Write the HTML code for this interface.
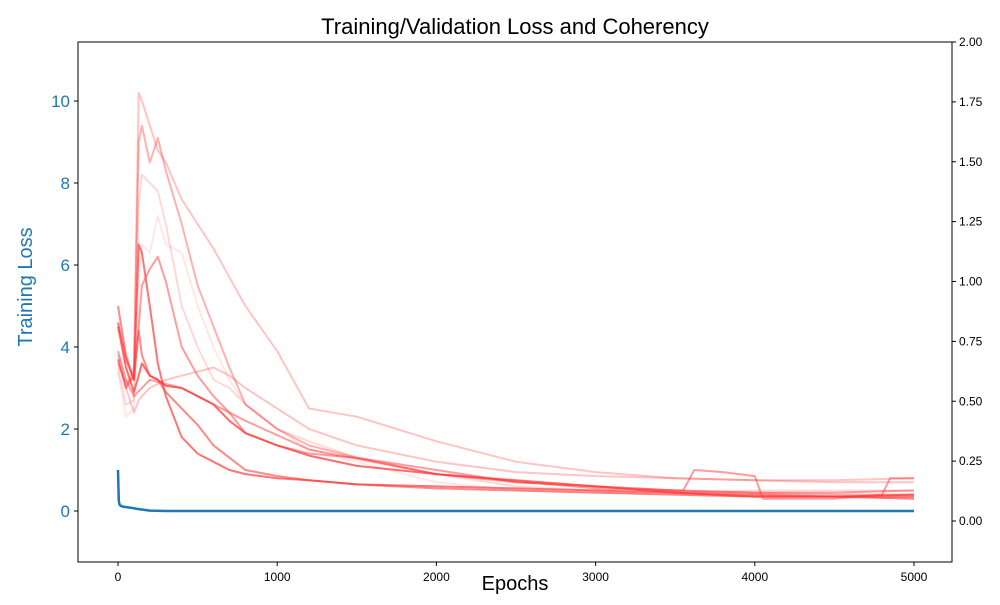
<!DOCTYPE html>
<html><head><meta charset="utf-8"><style>
body{margin:0;background:#fff;font-family:"Liberation Sans","DejaVu Sans",sans-serif}
</style></head><body>
<svg id="chart" width="1000" height="600" xmlns="http://www.w3.org/2000/svg" font-family="Liberation Sans, DejaVu Sans, sans-serif"></svg>
<script>
const epochs=[0,50,100,130,150,200,250,300,400,500,600,700,800,1000,1200,1500,2000,2500,3000,3500,4000,4500,5000];
const val1=[3.8,3.0,3.5,10.2,10.0,9.4,8.8,8.5,7.6,7.0,6.4,5.7,5.0,3.9,2.5,2.3,1.7,1.2,0.95,0.8,0.75,0.75,0.8];
const val2=[3.6,3.1,3.3,9.0,9.4,8.5,9.1,8.3,7.0,5.5,4.5,3.5,2.6,2.0,1.6,1.3,0.9,0.7,0.6,0.5,0.45,0.4,0.4];
const val3=[3.5,2.6,2.7,7.5,8.2,8.0,7.8,7.0,5.0,4.0,3.2,3.0,2.6,2.0,1.7,1.3,0.9,0.6,0.5,0.45,0.5,0.5,0.5];
const val4=[3.4,2.3,2.5,5.5,6.5,6.3,7.2,6.5,6.3,5.0,4.0,3.2,2.6,2.0,1.5,1.2,0.7,0.5,0.45,0.4,0.35,0.35,0.3];
const val5=[4.6,3.7,3.2,6.5,6.3,5.0,3.6,2.8,1.8,1.4,1.2,1.0,0.9,0.8,0.75,0.65,0.6,0.55,0.5,0.45,0.4,0.35,0.35];
const val6=[3.7,3.0,3.3,4.5,5.5,5.9,6.2,5.6,4.0,3.3,2.8,2.4,1.9,1.6,1.4,1.3,1.0,0.7,0.6,0.5,0.45,0.45,0.5];
const val7=[5.0,3.8,3.2,4.4,3.8,3.3,3.2,2.9,2.5,2.1,1.6,1.3,1.0,0.85,0.75,0.65,0.55,0.5,0.45,0.4,0.35,0.35,0.3];
const val8=[4.5,3.5,2.9,3.3,3.6,3.3,3.2,3.05,3.0,2.8,2.6,2.2,1.9,1.6,1.35,1.1,0.9,0.75,0.6,0.45,0.35,0.35,0.4];
const val9=[3.7,3.0,2.4,2.7,2.8,3.0,3.1,3.2,3.3,3.4,3.5,3.3,3.0,2.5,2.0,1.6,1.2,0.95,0.85,0.8,0.75,0.7,0.7];
const epochs10=[0,50,100,200,400,800,1200,2000,3000,3550,3620,3800,4000,4050,4500,4800,4850,5000];
const val10=[3.9,3.2,2.8,3.2,3.0,2.2,1.5,0.9,0.55,0.5,1.0,0.95,0.85,0.3,0.3,0.4,0.8,0.8];
const trainEpochs=[0,5,10,20,40,80,120,160,200,300,1000,5000];
const trainLoss=[1.0,0.25,0.15,0.12,0.1,0.08,0.05,0.03,0.01,0.0,0.0,0.0];
const xTicks=[0,1000,2000,3000,4000,5000];
const yTicks=[0,2,4,6,8,10];
const y2Ticks=["0.00","0.25","0.50","0.75","1.00","1.25","1.50","1.75","2.00"];
const redSeries=[[val1,0.3],[val2,0.4],[val3,0.2],[val4,0.12],[val5,0.7],[val6,0.5],[val7,0.6],[val8,0.75],[val9,0.3]];

const L=78,R=952,T=42,B=562;
const xs=e=>118+(e)*(914-118)/5000;
const ys=v=>511-v*41;
const y2s=v=>521-v*(521-42)/2;
const svg=document.getElementById('chart');
const NS='http://www.w3.org/2000/svg';
function mk(tag,attrs,parent){const el=document.createElementNS(NS,tag);for(const k in attrs)el.setAttribute(k,attrs[k]);(parent||svg).appendChild(el);return el;}
function txt(s,attrs){const t=mk('text',attrs);t.textContent=s;return t;}

const title=txt('Training/Validation Loss and Coherency',{x:515,y:34,'font-size':22,'text-anchor':'middle',fill:'#000'});



function line(xsArr,vals,color,op,w,name){
  const pts=xsArr.map((e,i)=>xs(e).toFixed(1)+','+ys(vals[i]).toFixed(1)).join(' ');
  const p=mk('polyline',{points:pts,fill:'none',stroke:color,'stroke-opacity':op,'stroke-width':w,'stroke-linejoin':'round'});
  
  
}
redSeries.forEach((s,i)=>line(epochs,s[0],'#ff3b3b',s[1],2,'validation-loss-'+(i+1)));
line(epochs10,val10,'#ff3b3b',0.5,2,'validation-loss-10');
line(trainEpochs,trainLoss,'#1f77b4',1,2.5,'training-loss-line');

const frame=mk('rect',{x:L,y:T,width:R-L,height:B-T,fill:'none',stroke:'#000','stroke-width':1});



xTicks.forEach(v=>{
  const x=xs(v);
  mk('line',{x1:x,x2:x,y1:B,y2:B+4,stroke:'#000'});
  const t=txt(String(v),{x:x,y:B+19,'font-size':12,'text-anchor':'middle'});
  
  
});
yTicks.forEach(v=>{
  const y=ys(v);
  mk('line',{x1:L-4,x2:L,y1:y,y2:y,stroke:'#000'});
  const t=txt(String(v),{x:L-8,y:y+6,'font-size':17,'text-anchor':'end',fill:'#1f77b4'});
  
  
});
y2Ticks.forEach(s=>{
  const y=y2s(parseFloat(s));
  mk('line',{x1:R,x2:R+4,y1:y,y2:y,stroke:'#000'});
  const t=txt(s,{x:R+7,y:y+4,'font-size':12});
  
  
});
const xl=txt('Epochs',{x:515,y:590,'font-size':20,'text-anchor':'middle'});


const yl=txt('Training Loss',{x:0,y:0,'font-size':20,'text-anchor':'middle',fill:'#1f77b4',transform:'translate(32,287) rotate(-90)'});


</script>
</body></html>
